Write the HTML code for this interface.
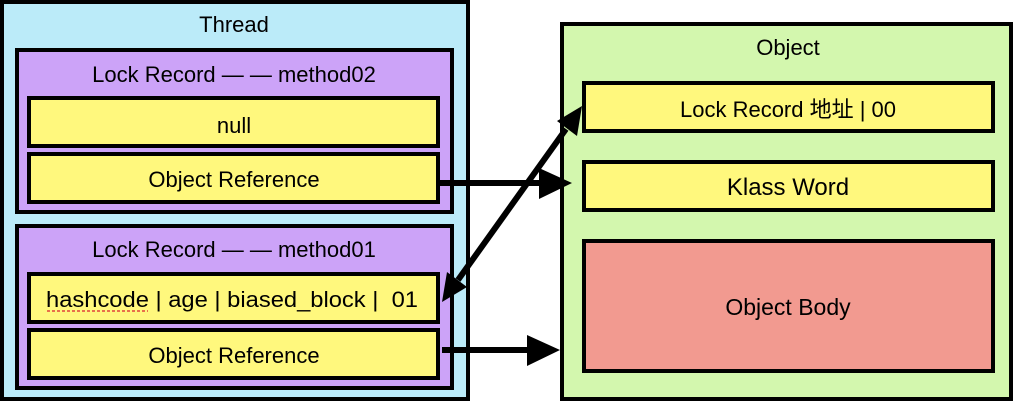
<!DOCTYPE html>
<html><head><meta charset="utf-8"><style>
html,body{margin:0;padding:0;background:#fff;width:1014px;height:402px;overflow:hidden}
svg{display:block}
text{font-family:"Liberation Sans","Noto Sans CJK SC",sans-serif;fill:#000;text-anchor:middle}
</style></head><body>
<svg width="1014" height="402" viewBox="0 0 1014 402" xmlns="http://www.w3.org/2000/svg">
<g stroke="#000" stroke-width="4">
<rect x="2" y="2" width="466" height="397" fill="#bbebf9"/>
<rect x="17" y="50" width="435" height="162" fill="#cca3f8"/>
<rect x="29" y="98" width="409" height="48" fill="#fff87d"/>
<rect x="29" y="154" width="409" height="48" fill="#fff87d"/>
<rect x="17" y="226" width="435" height="162" fill="#cca3f8"/>
<rect x="29" y="274" width="409" height="48" fill="#fff87d"/>
<rect x="29" y="330" width="409" height="48" fill="#fff87d"/>
<rect x="562" y="24" width="449" height="375" fill="#d3f7ae"/>
<rect x="584" y="83" width="409" height="48" fill="#fff87d"/>
<rect x="584" y="162" width="409" height="48" fill="#fff87d"/>
<rect x="584" y="241" width="409" height="130" fill="#f29a90"/>
</g>
<text x="234" y="32" font-size="22">Thread</text>
<text x="234" y="82" font-size="22">Lock Record — — method02</text>
<text x="234" y="133" font-size="22">null</text>
<text x="234" y="187" font-size="22">Object Reference</text>
<text x="234" y="257" font-size="22">Lock Record — — method01</text>
<text x="46" y="307" font-size="22" style="text-anchor:start" textLength="372" lengthAdjust="spacingAndGlyphs">hashcode | age | biased_block |&#160; 01</text>
<line x1="47" y1="311" x2="148" y2="311" stroke="#e0443a" stroke-width="1.5" stroke-dasharray="3,2"/>
<text x="234" y="363" font-size="22">Object Reference</text>
<text x="788" y="55" font-size="22">Object</text>
<text x="788" y="117" font-size="22">Lock Record 地址 | 00</text>
<text x="788" y="195" font-size="24">Klass Word</text>
<text x="788" y="315" font-size="23">Object Body</text>
<g stroke="#000" stroke-width="6">
<line x1="440" y1="183" x2="545" y2="183"/>
<line x1="442" y1="350" x2="532" y2="350"/>
<line x1="458" y1="280" x2="566" y2="129"/>
</g>
<g fill="#000">
<polygon points="572,183 539,168 539,199"/>
<polygon points="560,350 527,335 527,366"/>
<polygon points="582,106 557,121 577,136"/>
<polygon points="442,302 467,287 447,272"/>
</g>
</svg>
</body></html>
